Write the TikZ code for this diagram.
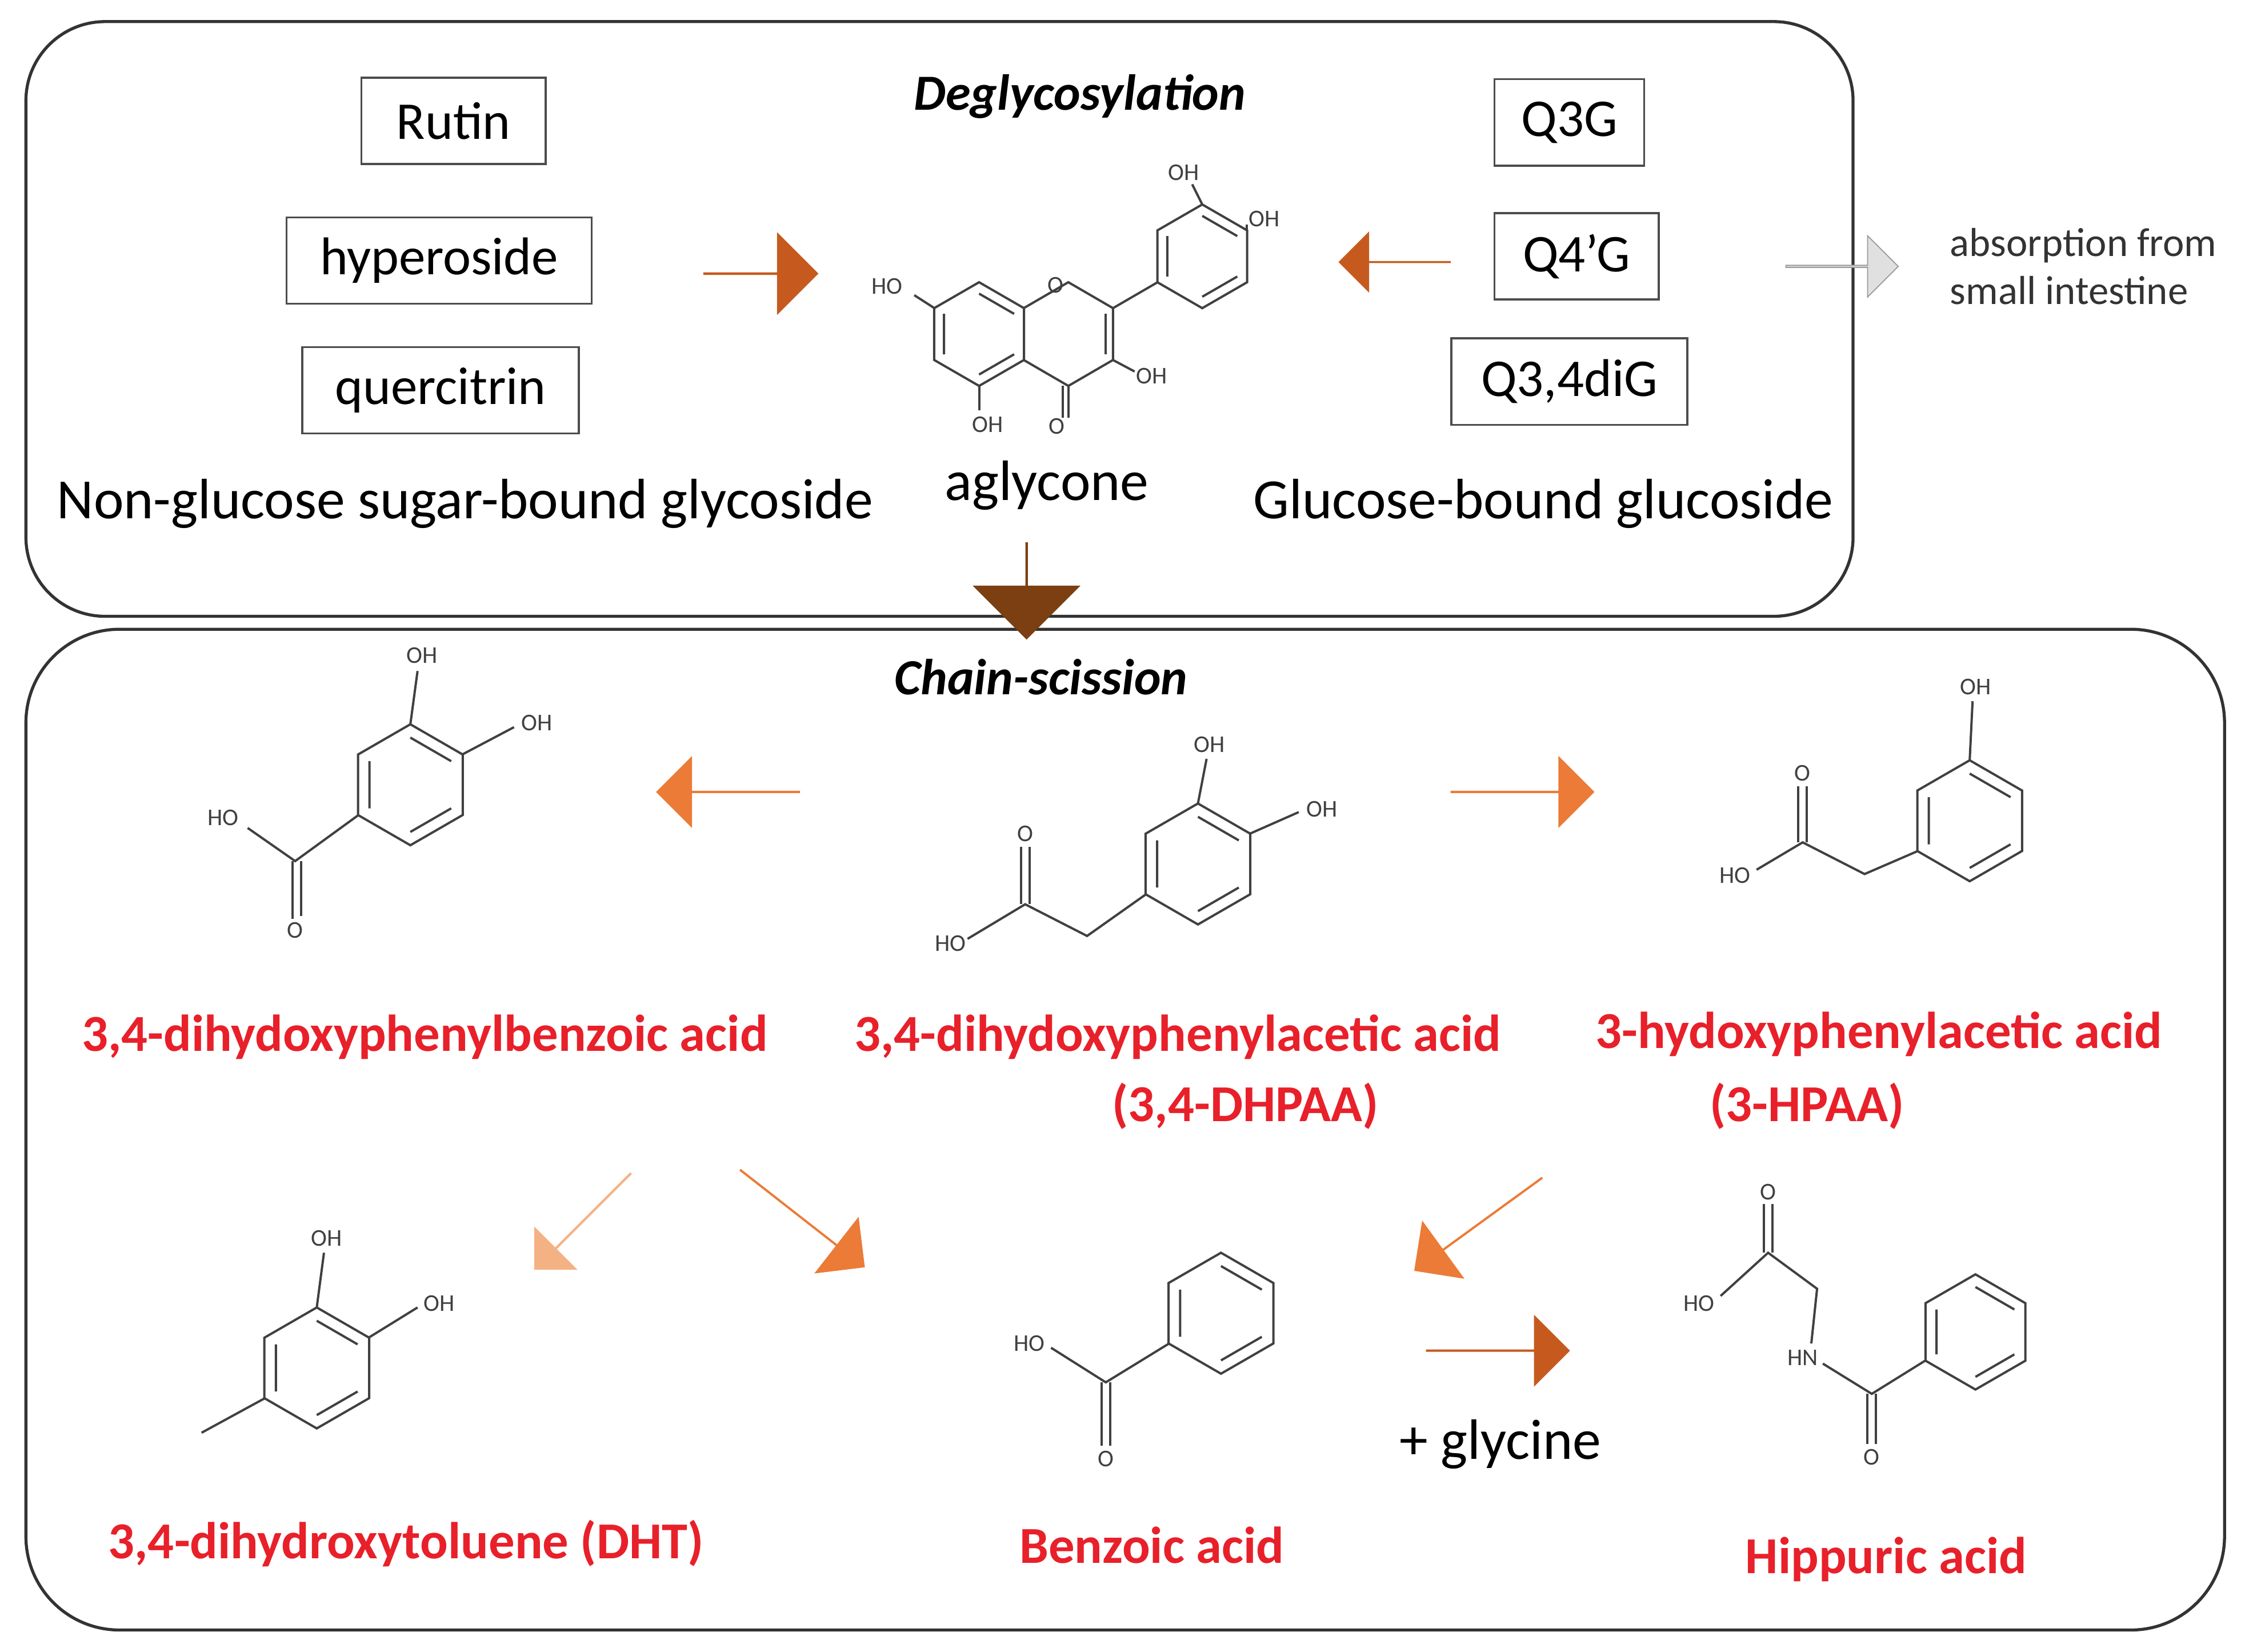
\documentclass[tikz,border=0pt]{standalone}
\usepackage{fontspec}
\setmainfont{Carlito}
\usetikzlibrary{shapes.arrows}
\definecolor{dorange}{HTML}{C65A1E}
\definecolor{morange}{HTML}{EB7B37}
\definecolor{porange}{HTML}{F4B183}
\definecolor{brownA}{HTML}{7B3F12}
\definecolor{redl}{HTML}{E8202A}
\newcommand\hexa[3]{\draw[mol] (#1,#2)+(90:#3)--+(150:#3)--+(210:#3)--+(270:#3)--+(330:#3)--+(30:#3)--cycle;
 \draw[mol] (#1,#2)+(150:0.78*#3)--+(210:0.78*#3) (#1,#2)+(270:0.78*#3)--+(330:0.78*#3) (#1,#2)+(30:0.78*#3)--+(90:0.78*#3);}
\begin{document}
\begin{tikzpicture}[x=0.02cm,y=-0.02cm,
 mol/.style={draw=black!75,line width=0.9pt},
 atm/.style={font=\fontsize{9.5}{9.5}\selectfont,text=black!75,inner sep=1pt},
 box/.style={draw=black!70,line width=0.8pt,minimum height=1.2cm,font=\fontsize{21}{21}\selectfont},
 txt/.style={font=\fontsize{22.5}{22.5}\selectfont},
 red/.style={font=\bfseries\fontsize{20.5}{20.5}\selectfont,text=redl,align=center},
 ttl/.style={font=\bfseries\itshape\fontsize{20}{20}\selectfont},
 barr/.style={single arrow,draw=none,minimum height=1.6cm,minimum width=1.15cm,single arrow head extend=0.22cm,inner sep=0pt}]
\useasboundingbox (0,0) rectangle (1562,1147);
\draw[black!80,line width=1.2pt,rounded corners=1.1cm] (18,15) rectangle (1287,428);
\draw[black!80,line width=1.2pt,rounded corners=1.3cm] (18,437) rectangle (1545,1132);
\node[ttl] (t1) at (750,67) {Deglycosylation};
\node[ttl] (t2) at (723,470) {Chain-scission};
\node[box,minimum width=2.56cm] (rutin) at (315,84) {Rutin};
\node[box,minimum width=4.24cm] (hyp) at (305,181) {hyperoside};
\node[box,minimum width=3.84cm] (que) at (306,271) {quercitrin};
\node[box,minimum width=2.08cm] (q3g) at (1090,85) {Q3G};
\node[box,minimum width=2.28cm] (q4g) at (1095,178) {Q4’G};
\node[box,minimum width=3.28cm] (q34) at (1090,265) {Q3,4diG};
\node[txt] (ng) at (323,350) {Non-glucose sugar-bound glycoside};
\node[txt] (ag) at (727,337) {aglycone};
\node[txt] (gb) at (1072,350) {Glucose-bound glucoside};
\node[font=\fontsize{16}{19}\selectfont,align=left,text=black!80] (abs) at (1447,185) {absorption from\\small intestine};
% arrows
\node[barr,fill=dorange,minimum height=1.6cm,minimum width=1.15cm] (a1) at (528,190) {};
\node[barr,fill=dorange,shape border rotate=180,minimum height=1.56cm,minimum width=0.85cm,single arrow head extend=0.2cm] (a2) at (969,182) {};
\node[barr,fill=black!12,draw=black!40,minimum height=1.56cm,minimum width=0.85cm,single arrow head extend=0.2cm] (a3) at (1279,185) {};
\node[barr,fill=brownA,shape border rotate=270,minimum height=1.35cm,minimum width=1.5cm,single arrow head extend=0.3cm] (a4) at (713,410) {};
\node[barr,fill=morange,shape border rotate=180,minimum height=2cm,minimum width=1cm] (a5) at (506,550) {};
\node[barr,fill=morange,minimum height=2cm,minimum width=1cm] (a6) at (1057,550) {};
\node[barr,fill=porange,rotate=-135,minimum height=1.9cm,minimum width=0.85cm,single arrow head extend=0.18cm] (a7) at (405,848) {};
\node[barr,fill=morange,rotate=-38,minimum height=2.2cm,minimum width=1cm] (a8) at (557,846) {};
\node[barr,fill=morange,rotate=-144,minimum height=2.2cm,minimum width=1cm] (a9) at (1027,850) {};
\node[barr,fill=dorange,minimum height=2cm,minimum width=1cm] (a10) at (1040,938) {};
% labels
\node[red] (l1) at (295,720) {3,4-dihydoxyphenylbenzoic acid};
\node[red] (l2) at (818,720) {3,4-dihydoxyphenylacetic acid};
\node[red] (l2b) at (865,768) {(3,4-DHPAA)};
\node[red] (l3) at (1305,718) {3-hydoxyphenylacetic acid};
\node[red] (l3b) at (1255,768) {(3-HPAA)};
\node[red] (l4) at (282,1072) {3,4-dihydroxytoluene (DHT)};
\node[red] (l5) at (800,1073) {Benzoic acid};
\node[red] (l6) at (1310,1083) {Hippuric acid};
\node[txt] (gly) at (1042,1003) {+ glycine};
% quercetin
\hexa{680}{232}{36}
\draw[mol] (711,214)--(742,196)--(773,214)--(773,250)--(742,268)--(711,250);
\draw[mol] (768,218)--(768,246);
\hexa{835}{178}{36}
\draw[mol] (773,214)--(804,196);
\draw[mol] (742,268)--(742,290) (738,268)--(738,290);
\node[atm] (o1) at (733,198) {O};
\node[atm] (o2) at (734,296) {O};
\draw[mol] (649,214)--(635,205); \node[atm] (h1) at (616,199) {HO};
\draw[mol] (680,268)--(680,285); \node[atm] (h2) at (686,295) {OH};
\draw[mol] (773,250)--(788,258); \node[atm] (h3) at (800,261) {OH};
\draw[mol] (835,142)--(828,128); \node[atm] (h4) at (822,120) {OH};
\draw[mol] (866,160)--(866,156); \node[atm] (h5) at (878,152) {OH};
% protocatechuic acid
\hexa{285}{545}{42}
\draw[mol] (285,503)--(290,466); \node[atm] (p1) at (293,455) {OH};
\draw[mol] (321,524)--(357,505); \node[atm] (p2) at (373,502) {OH};
\draw[mol] (249,566)--(205,598)--(172,575); \node[atm] (p3) at (155,568) {HO};
\draw[mol] (203,598)--(203,638) (209,598)--(209,636); \node[atm] (p4) at (205,646) {O};
% DHPAA
\hexa{832}{600}{42}
\draw[mol] (832,558)--(838,527); \node[atm] (d1) at (840,517) {OH};
\draw[mol] (868,579)--(902,564); \node[atm] (d2) at (918,562) {OH};
\draw[mol] (796,621)--(755,650)--(712,628)--(672,652); \node[atm] (d3) at (660,655) {HO};
\draw[mol] (709,628)--(709,588) (715,628)--(715,588); \node[atm] (d4) at (712,579) {O};
% 3-HPAA
\hexa{1368}{570}{42}
\draw[mol] (1368,528)--(1370,487); \node[atm] (e1) at (1372,477) {OH};
\draw[mol] (1332,591)--(1295,607)--(1252,585)--(1220,604); \node[atm] (e2) at (1205,608) {HO};
\draw[mol] (1249,585)--(1249,546) (1255,585)--(1255,546); \node[atm] (e3) at (1252,537) {O};
% DHT
\hexa{220}{950}{42}
\draw[mol] (220,908)--(225,870); \node[atm] (f1) at (227,860) {OH};
\draw[mol] (256,929)--(290,908); \node[atm] (f2) at (305,905) {OH};
\draw[mol] (184,971)--(140,995);
% benzoic acid
\hexa{848}{912}{42}
\draw[mol] (812,933)--(768,960)--(730,936); \node[atm] (g1) at (715,933) {HO};
\draw[mol] (765,960)--(765,1004) (771,960)--(771,1004); \node[atm] (g2) at (768,1013) {O};
% hippuric acid
\hexa{1372}{925}{40}
\draw[mol] (1337,945)--(1300,968)--(1266,947);
\draw[mol] (1297,968)--(1297,1003) (1303,968)--(1303,1003); \node[atm] (k1) at (1300,1012) {O};
\node[atm] (k2) at (1252,943) {HN};
\draw[mol] (1258,933)--(1262,895)--(1228,870)--(1195,900); \node[atm] (k3) at (1180,905) {HO};
\draw[mol] (1225,870)--(1225,836) (1231,870)--(1231,836); \node[atm] (k4) at (1228,828) {O};
\end{tikzpicture}
\end{document}
